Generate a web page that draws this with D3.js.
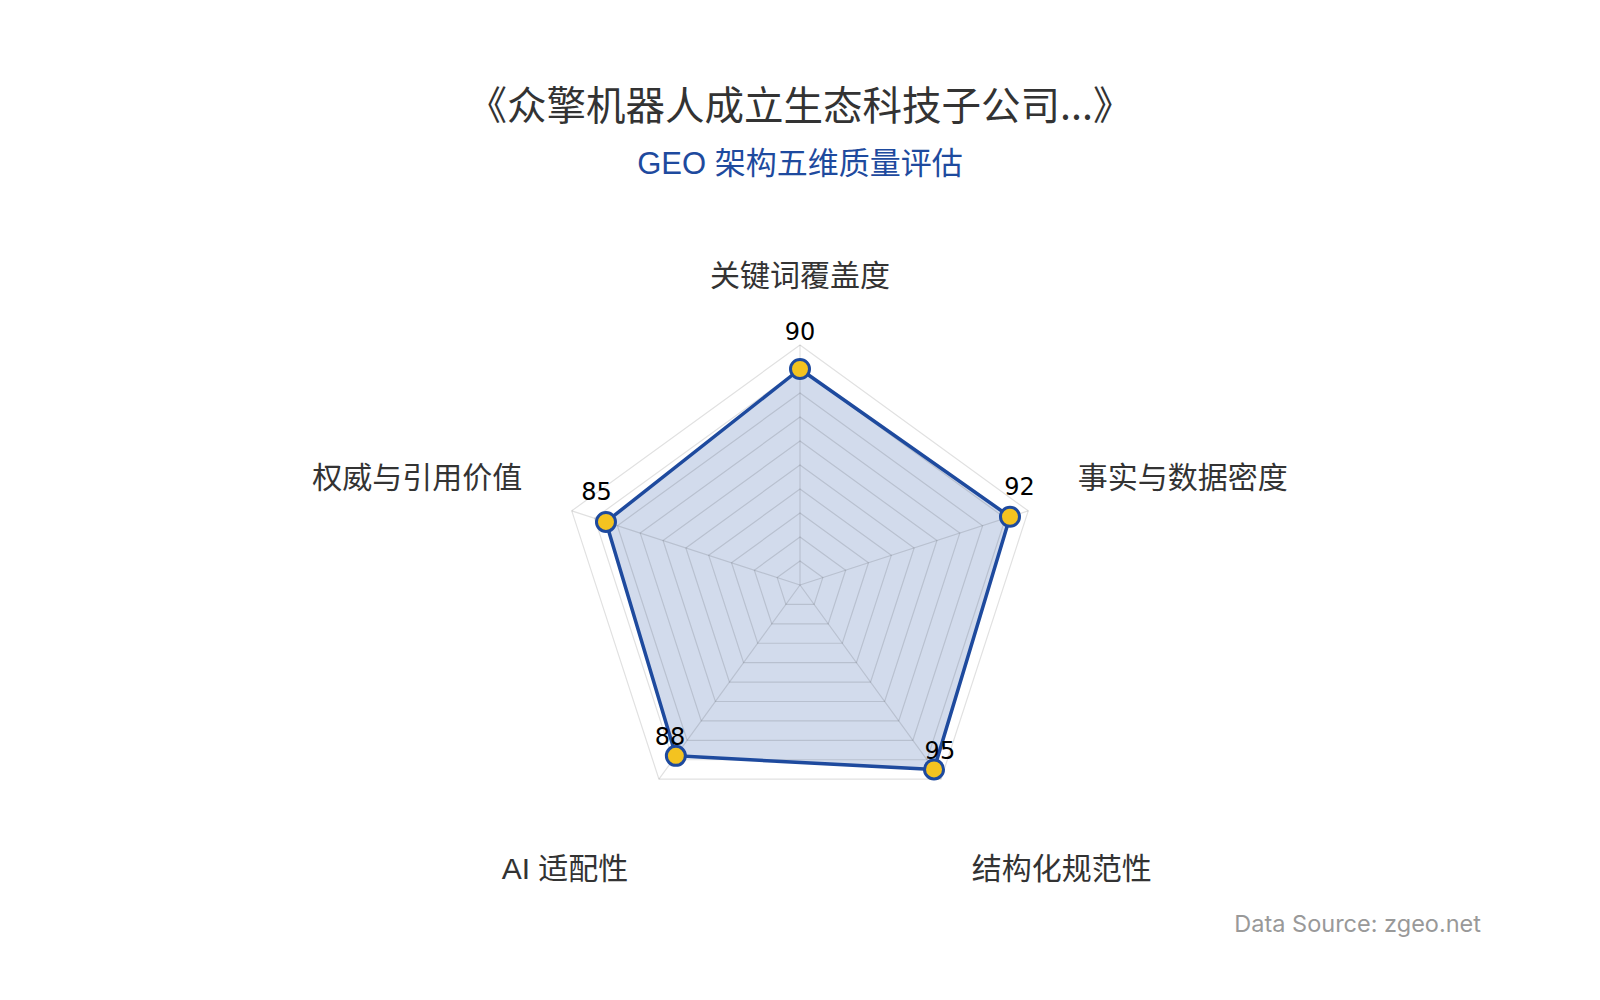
<!DOCTYPE html>
<html>
<head>
<meta charset="utf-8">
<script src="https://cdn.jsdelivr.net/npm/d3@7"></script>
<style>
  html, body { margin: 0; padding: 0; background: #fff; }
  svg { display: block; }
</style>
</head>
<body>
<script>
// chart data
const axesNames = ["关键词覆盖度", "事实与数据密度", "结构化规范性", "AI 适配性", "权威与引用价值"]
const scores = [90, 92, 95, 88, 85]
const ringLevels = [10, 20, 30, 40, 50, 60, 70, 80, 90, 100]
const titleText = "《众擎机器人成立生态科技子公司...》"
const subtitleText = "GEO 架构五维质量评估"
const sourceText = "Data Source: zgeo.net"

const width = 1600, height = 1000
const cx = 800, cy = 585
const blue = "#1e4a9e"

const svg = d3.select("body").append("svg")
    .attr("width", width)
    .attr("height", height)

// radius scale 0..100
const rScale = d3.scaleLinear().domain([0, 100]).range([0, 240])
// angle for each axis, starting at top, going clockwise
const aScale = d3.scaleLinear().domain([0, axesNames.length]).range([0, 2 * Math.PI])

const dirOf = i => [Math.sin(aScale(i)), -Math.cos(aScale(i))]
const pt = (i, v) => {
    const d = dirOf(i)
    return [cx + d[0] * rScale(v), cy + d[1] * rScale(v)]
}

// titles
svg.append("text")
    .attr("x", cx).attr("y", 102)
    .attr("text-anchor", "middle")
    .attr("dominant-baseline", "central")
    .attr("font-family", "'Noto Sans CJK SC', sans-serif")
    .attr("font-size", 39.5)
    .attr("fill", "#333")
    .text(titleText)

svg.append("text")
    .attr("x", cx).attr("y", 163)
    .attr("text-anchor", "middle")
    .attr("dominant-baseline", "central")
    .attr("font-family", "'Liberation Sans', 'Noto Sans CJK SC', sans-serif")
    .attr("font-size", 31)
    .attr("fill", blue)
    .text(subtitleText)

// filled area first so grid lines show through it
const line = d3.line().curve(d3.curveLinearClosed)
const dataPts = scores.map((v, i) => pt(i, v))

svg.append("path")
    .attr("d", line(dataPts))
    .attr("fill", blue)
    .attr("fill-opacity", 0.2)
    .attr("stroke", "none")

// grid rings
const grid = svg.append("g")
grid.selectAll("path.ring")
    .data(ringLevels)
    .enter()
    .append("path")
    .attr("class", "ring")
    .attr("d", lv => line(axesNames.map((n, i) => pt(i, lv))))
    .attr("fill", "none")
    .attr("stroke", "#000")
    .attr("stroke-opacity", 0.12)
    .attr("stroke-width", 1.2)

// spokes
grid.selectAll("line.spoke")
    .data(axesNames)
    .enter()
    .append("line")
    .attr("x1", cx).attr("y1", cy)
    .attr("x2", (d, i) => pt(i, 100)[0])
    .attr("y2", (d, i) => pt(i, 100)[1])
    .attr("stroke", "#000")
    .attr("stroke-opacity", 0.12)
    .attr("stroke-width", 1.2)

// data outline
svg.append("path")
    .attr("d", line(dataPts))
    .attr("fill", "none")
    .attr("stroke", blue)
    .attr("stroke-width", 3.5)
    .attr("stroke-linejoin", "round")

// points
svg.selectAll("circle.pt")
    .data(scores)
    .enter()
    .append("circle")
    .attr("cx", (v, i) => pt(i, v)[0])
    .attr("cy", (v, i) => pt(i, v)[1])
    .attr("r", 9.5)
    .attr("fill", "#f4c320")
    .attr("stroke", blue)
    .attr("stroke-width", 3)

// value labels: pushed out a bit along the axis, then lifted above the point
svg.selectAll("text.val")
    .data(scores)
    .enter()
    .append("text")
    .attr("x", (v, i) => pt(i, v)[0] + dirOf(i)[0] * 10)
    .attr("y", (v, i) => pt(i, v)[1] + dirOf(i)[1] * 10 - 19)
    .attr("text-anchor", "middle")
    .attr("font-family", "'DejaVu Sans', sans-serif")
    .attr("font-size", 24)
    .attr("fill", "#000")
    .text(v => v)

// axis names
svg.selectAll("text.axis")
    .data(axesNames)
    .enter()
    .append("text")
    .attr("x", (n, i) => cx + dirOf(i)[0] * rScale(100) * 1.217)
    .attr("y", (n, i) => cy + dirOf(i)[1] * rScale(100) * 1.217 + (dirOf(i)[1] > 0 ? 47 : -17))
    .attr("text-anchor", (n, i) => Math.abs(dirOf(i)[0]) < 0.01 ? "middle" : (dirOf(i)[0] > 0 ? "start" : "end"))
    .attr("dominant-baseline", "central")
    .attr("font-family", "'Liberation Sans', 'Noto Sans CJK SC', sans-serif")
    .attr("font-size", 30)
    .attr("fill", "#333")
    .text(n => n)

// source note
svg.append("text")
    .attr("x", 1481).attr("y", 932)
    .attr("text-anchor", "end")
    .attr("font-family", "Inter, sans-serif")
    .attr("font-size", 23.5)
    .attr("fill", "#999")
    .text(sourceText)
</script>
</body>
</html>
